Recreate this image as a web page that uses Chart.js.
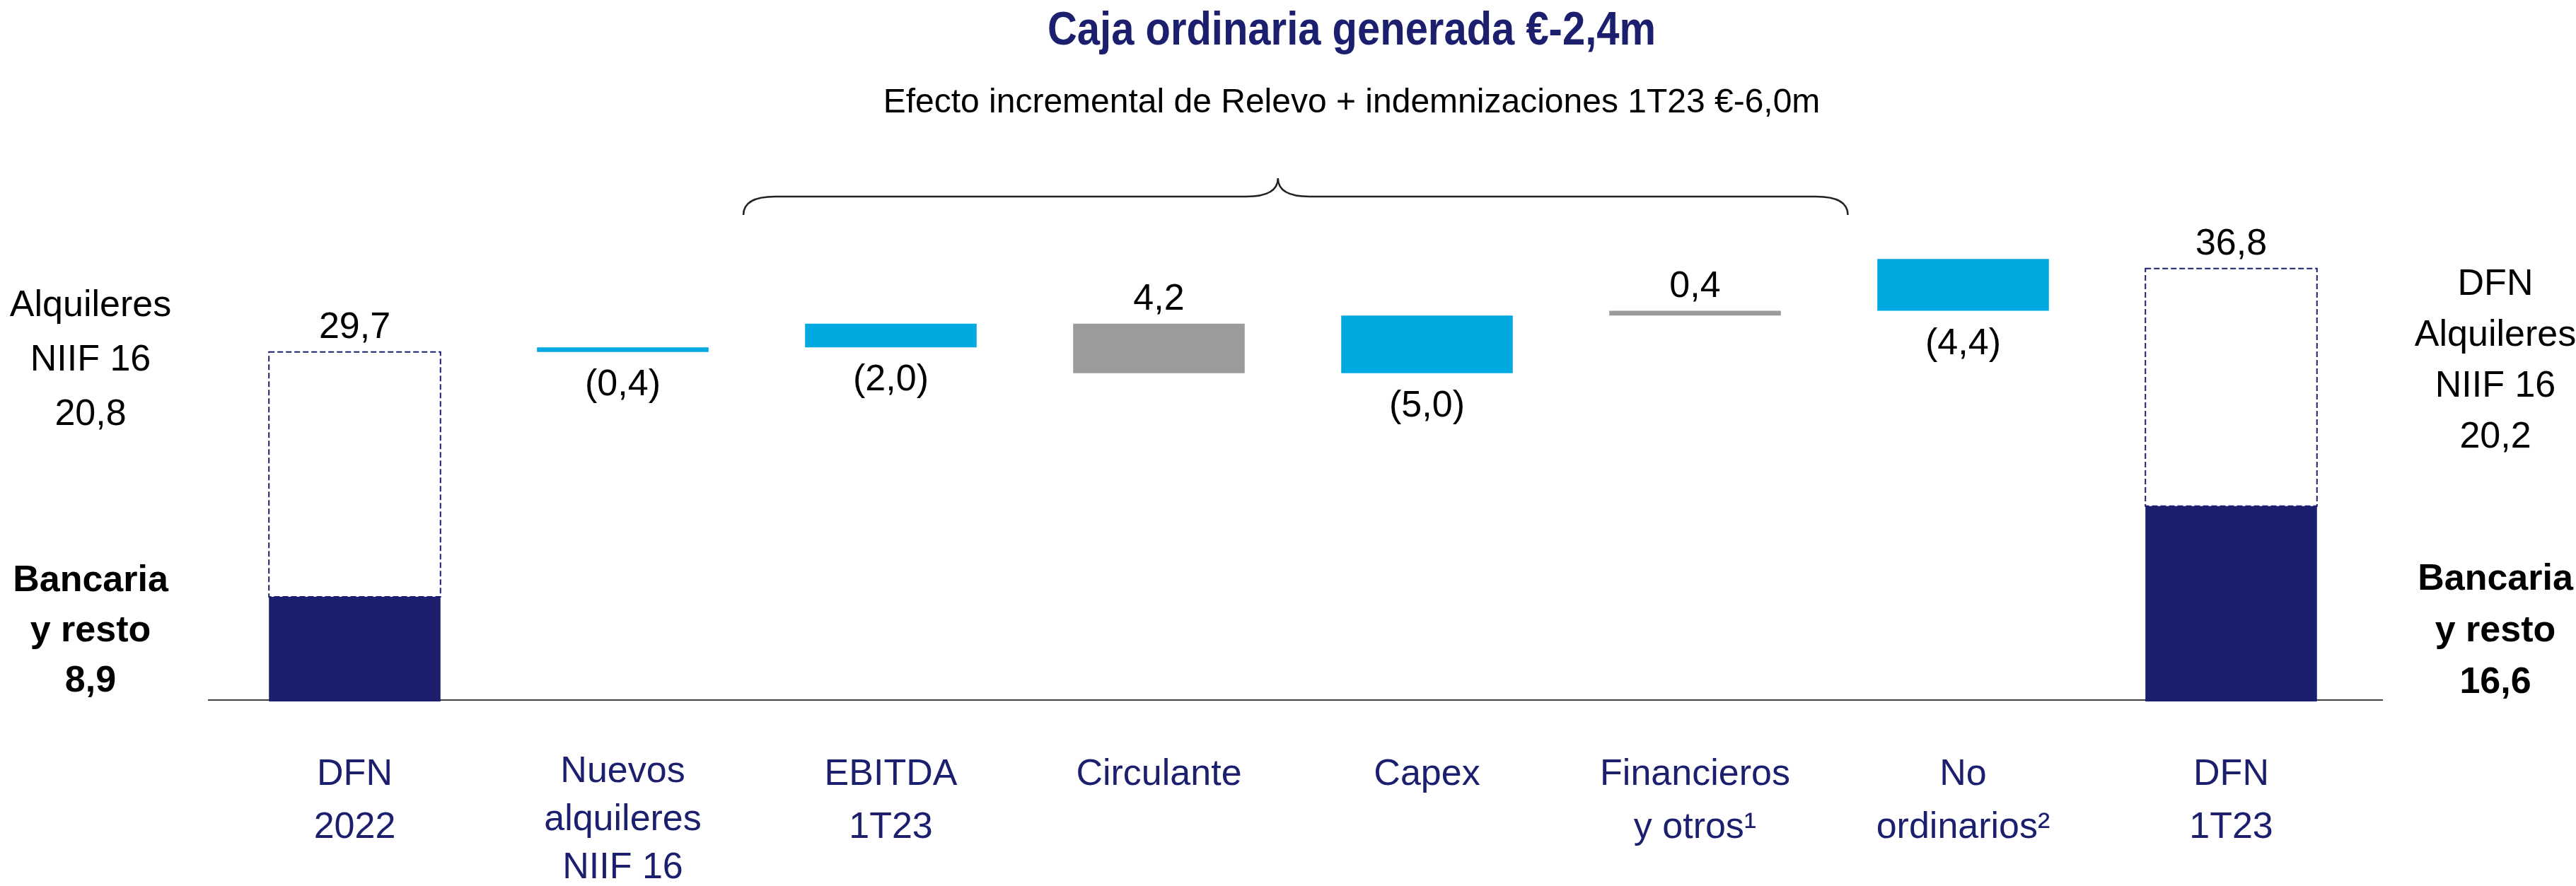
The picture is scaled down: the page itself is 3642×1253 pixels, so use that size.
<!DOCTYPE html>
<html>
<head>
<meta charset="utf-8">
<script src="https://cdn.jsdelivr.net/npm/chart.js@4/dist/chart.umd.min.js"></script>
<style>
  html, body { margin: 0; padding: 0; background: #fff; }
  #wrap { width: 3642px; height: 1253px; }
</style>
</head>
<body>
<div id="wrap"><canvas id="grafico"></canvas></div>
<script>
// categorias del eje x
const categorias = [
  ['DFN', '2022'],
  ['Nuevos', 'alquileres', 'NIIF 16'],
  ['EBITDA', '1T23'],
  ['Circulante'],
  ['Capex'],
  ['Financieros', 'y otros¹'],
  ['No', 'ordinarios²'],
  ['DFN', '1T23']
];

// DFN total y parte bancaria (primera y ultima columna)
const dfnTotal = [29.7, null, null, null, null, null, null, 36.8];
const dfnBancaria = [8.9, null, null, null, null, null, null, 16.6];
const dfnAlquileres = [20.8, 20.2];

// variaciones: valor que se muestra y tramo flotante tal como esta dibujado
const variacion = [null, -0.4, -2.0, 4.2, -5.0, 0.4, -4.4, null];
const tramoDesde = [null, 29.7, 30.1, 27.9, 27.9, 32.8, 33.2, null];
const tramoHasta = [null, 30.1, 32.1, 32.1, 32.8, 33.2, 37.6, null];

const titulo = 'Caja ordinaria generada €-2,4m';
const subtitulo = 'Efecto incremental de Relevo + indemnizaciones 1T23 €-6,0m';

const NAVY = '#1B1F6E';
const CYAN = '#00AAE0';
const GRIS = '#9B9B9B';
const FUENTE = '"Liberation Sans", Arial, sans-serif';

function fmt(v) {
  return v.toFixed(1).replace('.', ',');
}

function fuenteDisponible(f) {
  const c = document.createElement('canvas').getContext('2d');
  c.font = '40px monospace';
  const a = c.measureText('abcdefghijklmWw').width;
  c.font = '40px "' + f + '", monospace';
  const b = c.measureText('abcdefghijklmWw').width;
  return a !== b;
}
const hayNarrow = fuenteDisponible('Liberation Sans Narrow');

function lineas(ctx, textos, x, y0, paso) {
  textos.forEach((t, i) => ctx.fillText(t, x, y0 + i * paso));
}

const anotaciones = {
  id: 'anotaciones',
  beforeDatasetsDraw(chart) {
    const {ctx, chartArea} = chart;
    // linea del eje
    ctx.save();
    ctx.strokeStyle = '#404040';
    ctx.lineWidth = 2;
    ctx.beginPath();
    ctx.moveTo(chartArea.left - 18, chartArea.bottom - 2);
    ctx.lineTo(chartArea.right + 25, chartArea.bottom - 2);
    ctx.stroke();
    ctx.restore();
  },
  afterDatasetsDraw(chart) {
    const {ctx} = chart;
    const totales = chart.getDatasetMeta(1).data;
    const tramos = chart.getDatasetMeta(2).data;
    ctx.save();

    // cajas discontinuas de la DFN
    ctx.strokeStyle = NAVY;
    ctx.lineWidth = 2;
    ctx.setLineDash([8, 4]);
    totales.forEach((el, i) => {
      if (dfnTotal[i] === null) return;
      const top = Math.min(el.y, el.base), bot = Math.max(el.y, el.base);
      ctx.strokeRect(el.x - el.width / 2, top, el.width, bot - top);
    });
    ctx.setLineDash([]);

    // etiquetas de valor
    ctx.fillStyle = '#000';
    ctx.font = '52px ' + FUENTE;
    ctx.textAlign = 'center';
    ctx.textBaseline = 'alphabetic';
    totales.forEach((el, i) => {
      if (dfnTotal[i] === null) return;
      ctx.fillText(fmt(dfnTotal[i]), el.x, Math.min(el.y, el.base) - 20);
    });
    tramos.forEach((el, i) => {
      const v = variacion[i];
      if (v === null) return;
      const top = Math.min(el.y, el.base), bot = Math.max(el.y, el.base);
      if (v < 0) ctx.fillText('(' + fmt(-v) + ')', el.x, bot + 61);
      else ctx.fillText(fmt(v), el.x, top - 20);
    });
    ctx.restore();
  },
  afterDraw(chart) {
    const {ctx, chartArea, scales} = chart;
    ctx.save();
    ctx.textAlign = 'center';
    ctx.textBaseline = 'alphabetic';

    // titulo y subtitulo
    const cx = 1911;
    ctx.fillStyle = NAVY;
    ctx.font = hayNarrow ? 'bold 66px "Liberation Sans Narrow", ' + FUENTE : 'bold 66px ' + FUENTE;
    const w = ctx.measureText(titulo).width;
    const objetivo = 860;
    ctx.save();
    ctx.translate(cx, 63);
    if (w > objetivo) ctx.scale(objetivo / w, 1);
    ctx.fillText(titulo, 0, 0);
    ctx.restore();

    ctx.fillStyle = '#000';
    ctx.font = '48px ' + FUENTE;
    ctx.fillText(subtitulo, cx, 159);

    // llave sobre las variaciones
    const L = scales.x.getPixelForValue(1.45);
    const R = scales.x.getPixelForValue(5.57);
    const P = (L + R) / 2 - 25;
    const yb = 304, yl = 278, yp = 252;
    ctx.strokeStyle = '#222';
    ctx.lineWidth = 2.5;
    ctx.beginPath();
    ctx.moveTo(L, yb);
    ctx.quadraticCurveTo(L, yl, L + 45, yl);
    ctx.lineTo(P - 45, yl);
    ctx.quadraticCurveTo(P, yl, P, yp);
    ctx.quadraticCurveTo(P, yl, P + 45, yl);
    ctx.lineTo(R - 45, yl);
    ctx.quadraticCurveTo(R, yl, R, yb);
    ctx.stroke();

    // textos laterales
    const xi = chartArea.left - 184;
    const xd = chartArea.right + 184;
    ctx.fillStyle = '#000';
    ctx.font = '52px ' + FUENTE;
    lineas(ctx, ['Alquileres', 'NIIF 16', fmt(dfnAlquileres[0])], xi, 447, 77);
    lineas(ctx, ['DFN', 'Alquileres', 'NIIF 16', fmt(dfnAlquileres[1])], xd, 417, 72);
    ctx.font = 'bold 52px ' + FUENTE;
    lineas(ctx, ['Bancaria', 'y resto', fmt(dfnBancaria[0])], xi, 836, 71);
    lineas(ctx, ['Bancaria', 'y resto', fmt(dfnBancaria[7])], xd, 834, 73);
    ctx.restore();
  }
};

new Chart(document.getElementById('grafico'), {
  type: 'bar',
  data: {
    labels: categorias,
    datasets: [
      {
        label: 'Bancaria y resto',
        data: dfnBancaria,
        backgroundColor: NAVY
      },
      {
        label: 'DFN',
        data: dfnTotal.map((t, i) => t === null ? null : [dfnBancaria[i], t]),
        backgroundColor: 'rgba(0,0,0,0)',
        borderWidth: 0
      },
      {
        label: 'Variación',
        data: tramoDesde.map((d, i) => d === null ? null : [d, tramoHasta[i]]),
        backgroundColor: variacion.map(v => v !== null && v < 0 ? CYAN : GRIS)
      }
    ]
  },
  options: {
    responsive: true,
    maintainAspectRatio: false,
    animation: false,
    layout: { padding: { left: 312, right: 298, top: 160, bottom: 0 } },
    datasets: {
      bar: { grouped: false, categoryPercentage: 0.64, barPercentage: 1 }
    },
    plugins: {
      legend: { display: false },
      tooltip: { enabled: false }
    },
    scales: {
      x: {
        grid: { display: false, drawTicks: false },
        border: { display: false },
        ticks: {
          color: NAVY,
          // la etiqueta de tres lineas va mas apretada
          font: c => ({
            family: FUENTE,
            size: 52,
            lineHeight: categorias[c.index] && categorias[c.index].length > 2 ? '68px' : '75px'
          }),
          padding: 66,
          maxRotation: 0,
          autoSkip: false
        },
        afterFit: s => { s.height = 261; }
      },
      y: { display: false, min: 0, max: 50 }
    }
  },
  plugins: [anotaciones]
});
</script>
</body>
</html>
